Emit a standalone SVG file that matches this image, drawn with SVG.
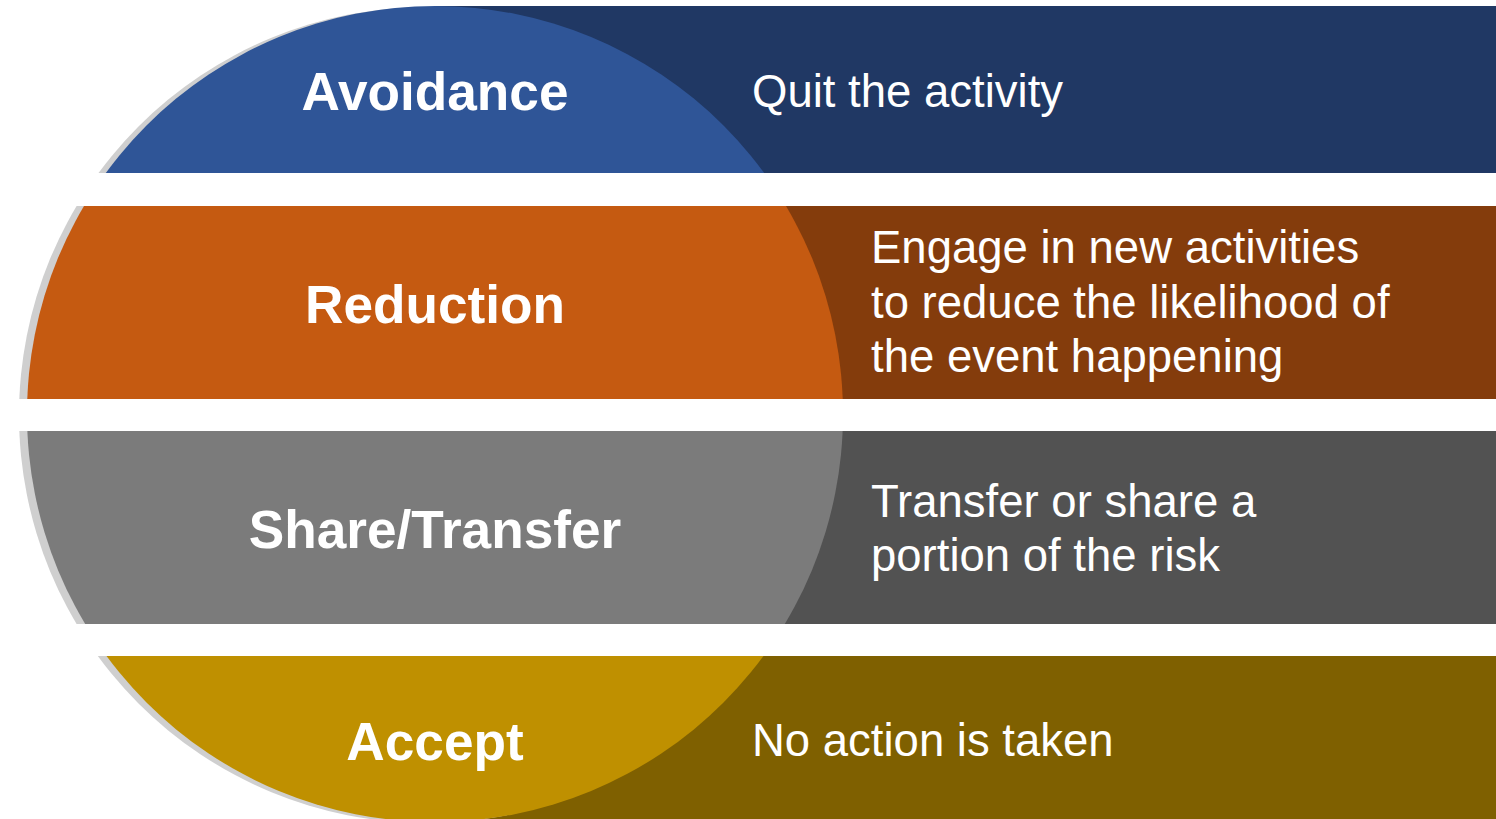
<svg xmlns="http://www.w3.org/2000/svg" width="1496" height="819" viewBox="0 0 1496 819">
  <style>
    .label { font-family: "Liberation Sans", Arial, sans-serif; font-weight: bold; font-size: 53.2px; fill: #ffffff; text-anchor: middle; }
    .desc { font-family: "Liberation Sans", Arial, sans-serif; font-size: 45.5px; fill: #ffffff; }
    .shadow { fill: #cfcfcf; }
  </style>
  <defs>
    <!-- one horizontal slice of the disc per band -->
    <clipPath id="clip-avoid"><rect x="0" y="6" width="1496" height="167"/></clipPath>
    <clipPath id="clip-reduce"><rect x="0" y="206" width="1496" height="193"/></clipPath>
    <clipPath id="clip-share"><rect x="0" y="431" width="1496" height="193"/></clipPath>
    <clipPath id="clip-accept"><rect x="0" y="656" width="1496" height="170"/></clipPath>
    <circle id="disc-shadow" cx="427" cy="415" r="408"/>
    <circle id="disc" cx="435" cy="414" r="408"/>
  </defs>
  <rect width="1496" height="819" fill="#ffffff"/>

  <g id="avoidance" clip-path="url(#clip-avoid)">
    <rect x="435" y="6" width="1061" height="167" fill="#203864"/>
    <use href="#disc-shadow" class="shadow"/>
    <use href="#disc" fill="#2f5597"/>
    <text class="label" x="435" y="110">Avoidance</text>
    <text class="desc" x="752" y="107">Quit the activity</text>
  </g>

  <g id="reduction" clip-path="url(#clip-reduce)">
    <rect x="435" y="206" width="1061" height="193" fill="#843c0c"/>
    <use href="#disc-shadow" class="shadow"/>
    <use href="#disc" fill="#c55a11"/>
    <text class="label" x="435" y="323">Reduction</text>
    <text class="desc" x="871" y="263">Engage in new activities</text>
    <text class="desc" x="871" y="318">to reduce the likelihood of</text>
    <text class="desc" x="871" y="372">the event happening</text>
  </g>

  <g id="share-transfer" clip-path="url(#clip-share)">
    <rect x="435" y="431" width="1061" height="193" fill="#525252"/>
    <use href="#disc-shadow" class="shadow"/>
    <use href="#disc" fill="#7b7b7b"/>
    <text class="label" x="435" y="548">Share/Transfer</text>
    <text class="desc" x="871" y="517">Transfer or share a</text>
    <text class="desc" x="871" y="571">portion of the risk</text>
  </g>

  <g id="accept" clip-path="url(#clip-accept)">
    <rect x="435" y="656" width="1061" height="170" fill="#7f6000"/>
    <use href="#disc-shadow" class="shadow"/>
    <use href="#disc" fill="#bf9000"/>
    <text class="label" x="435" y="760">Accept</text>
    <text class="desc" x="752" y="756">No action is taken</text>
  </g>

  <g id="connectors"/>
</svg>
